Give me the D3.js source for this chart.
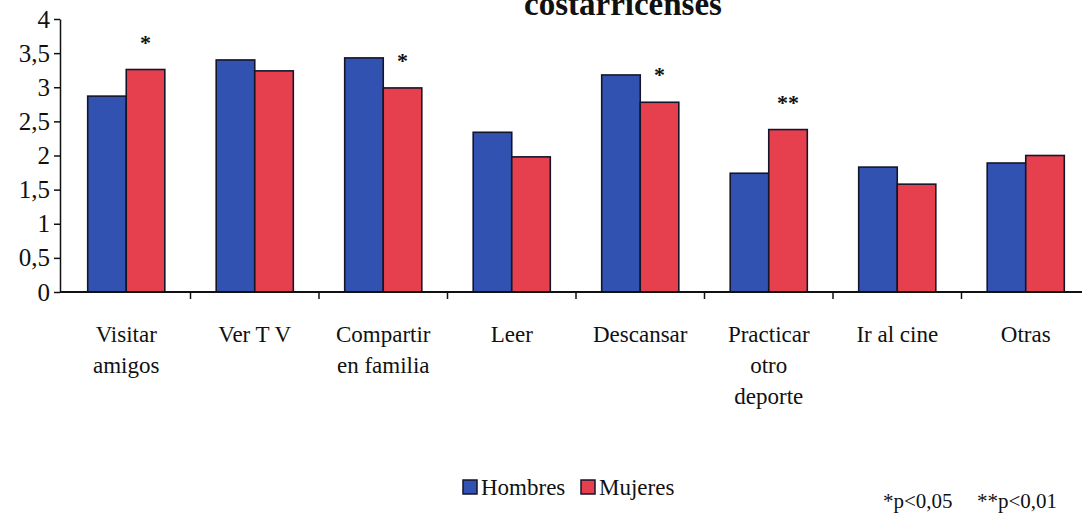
<!DOCTYPE html>
<html><head><meta charset="utf-8">
<script src="https://cdn.jsdelivr.net/npm/d3@7"></script>
<style>
html,body{margin:0;padding:0;background:#fff;}
svg{display:block;}
svg text{font-family:"Liberation Serif","Times New Roman","DejaVu Serif",serif;}
</style></head>
<body><svg id="chart" width="1082" height="523"></svg>
<script>
const categories = [["Visitar","amigos"],["Ver T V"],["Compartir","en familia"],["Leer"],["Descansar"],["Practicar","otro","deporte"],["Ir al cine"],["Otras"]];
const hombres = [2.87, 3.40, 3.43, 2.34, 3.18, 1.74, 1.83, 1.89];
const mujeres = [3.26, 3.24, 2.99, 1.98, 2.78, 2.38, 1.58, 2.00];
const significance = ["*", "", "*", "", "*", "**", "", ""];
const seriesNames = ["Hombres", "Mujeres"];
const seriesColors = ["#3152b0", "#e6404f"];
const yTicks = [0, 0.5, 1, 1.5, 2, 2.5, 3, 3.5, 4];
const yTickLabels = ["0", "0,5", "1", "1,5", "2", "2,5", "3", "3,5", "4"];
const titleText = "costarricenses";
const noteText = ["*p<0,05", "**p<0,01"];

const FONT = "Liberation Serif, Times New Roman, serif";
const svg = d3.select("#chart");
const ids = d3.range(categories.length);
const x0 = d3.scaleBand().domain(ids).range([62, 1090]).paddingInner(0).paddingOuter(0);
const x1 = d3.scaleBand().domain([0, 1]).range([x0.bandwidth() * 0.2, x0.bandwidth() * 0.8]);
const y = d3.scaleLinear().domain([0, 4]).range([292, 19]);
const series = [hombres, mujeres];

// title (top line cut off in the reference photo)
svg.append("text").attr("x", 623).attr("y", 15).attr("text-anchor", "middle")
  .attr("font-family", FONT).attr("font-weight", "bold").attr("font-size", 33).attr("fill", "#111").text(titleText);

// bars
const g = svg.append("g");
ids.forEach(i => {
  series.forEach((s, k) => {
    g.append("rect")
      .attr("x", x0(i) + x1(k)).attr("width", x1.bandwidth())
      .attr("y", y(s[i])).attr("height", y(0) - y(s[i]))
      .attr("fill", seriesColors[k]).attr("stroke", "#15152a").attr("stroke-width", 1.6);
  });
  if (significance[i]) {
    g.append("text").attr("x", x0(i) + x1(1) + x1.bandwidth() / 2).attr("y", y(mujeres[i]) - 20)
      .attr("text-anchor", "middle").attr("font-family", FONT).attr("font-size", 22).attr("font-weight", "bold")
      .attr("fill", "#111").text(significance[i]);
  }
});

// y axis
const yAxis = d3.axisLeft(y).tickValues(yTicks).tickFormat((d, i) => yTickLabels[i]).tickSize(6).tickSizeOuter(0);
const ya = svg.append("g").attr("transform", "translate(60,0)").call(yAxis).attr("font-family", FONT);
ya.selectAll("text").attr("font-size", 25).attr("font-family", FONT).attr("fill", "#111").attr("x", -10);
ya.selectAll("line,path").attr("stroke", "#111").attr("stroke-width", 1.5);

// x axis
const xa = svg.append("g").attr("transform", "translate(0," + y(0) + ")");
xa.append("line").attr("x1", 60).attr("x2", 1090).attr("y1", 0).attr("y2", 0).attr("stroke", "#111").attr("stroke-width", 1.8);
ids.forEach(i => {
  if (i > 0) xa.append("line").attr("x1", x0(i)).attr("x2", x0(i)).attr("y1", 0).attr("y2", 7).attr("stroke", "#111").attr("stroke-width", 1.5);
  const t = xa.append("text").attr("text-anchor", "middle").attr("font-family", FONT).attr("font-size", 23).attr("fill", "#111");
  categories[i].forEach((line, j) => {
    t.append("tspan").attr("x", x0(i) + x0.bandwidth() / 2).attr("y", 50 + j * 31).text(line);
  });
});

// legend
const legend = svg.append("g");
const legX = [463, 581];
seriesNames.forEach((n, k) => {
  legend.append("rect").attr("x", legX[k]).attr("y", 480).attr("width", 14).attr("height", 14)
    .attr("fill", seriesColors[k]).attr("stroke", "#15152a").attr("stroke-width", 1.5);
  legend.append("text").attr("x", legX[k] + 18).attr("y", 495).attr("font-family", FONT).attr("font-size", 23).attr("fill", "#111").text(n);
});

// note
const noteX = [883, 977];
noteText.forEach((t, k) => {
  svg.append("text").attr("x", noteX[k]).attr("y", 508).attr("font-family", FONT).attr("font-size", 21).attr("fill", "#111").text(t);
});
</script></body></html>
